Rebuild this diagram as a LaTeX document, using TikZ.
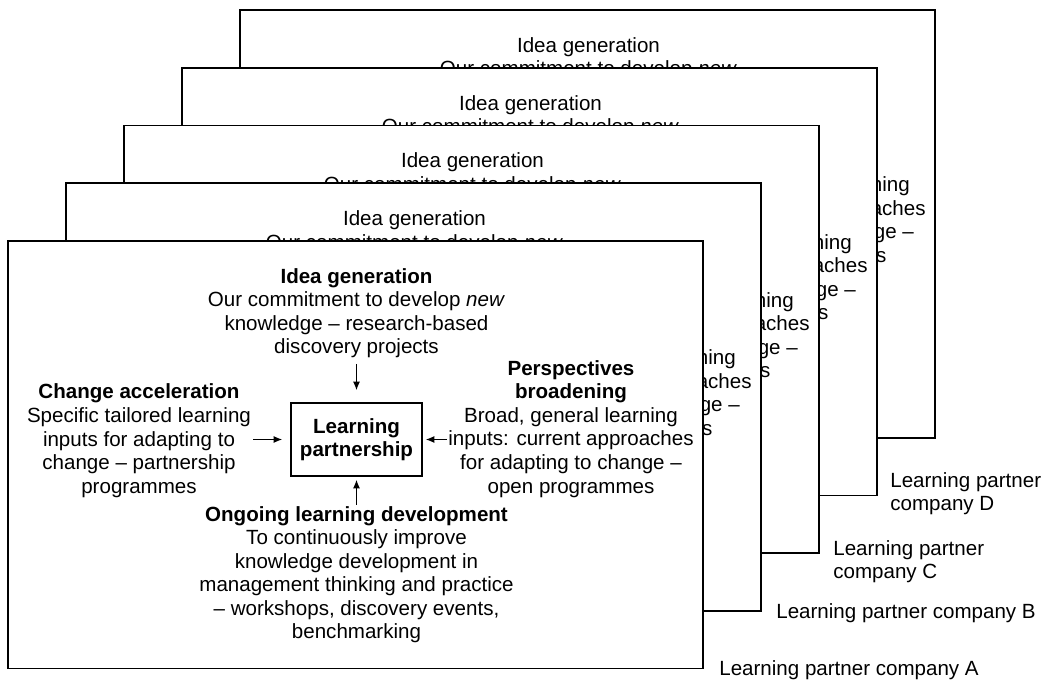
\documentclass[tikz,border=0pt]{standalone}
\usepackage{fontspec}
\setmainfont{Liberation Sans}
\usetikzlibrary{arrows.meta,positioning}

\begin{document}
\begin{tikzpicture}[x=0.02cm,y=-0.02cm,
  txt/.style={inner sep=0pt,align=center,font=\fontsize{11.7}{13.4}\selectfont},
  lab/.style={txt,align=left,anchor=north west},
  sheet/.style={draw,fill=white,line width=1pt},
  arr/.style={-{Latex[length=1.7mm,width=1.4mm]},line width=0.6pt}]
\useasboundingbox (0,0) rectangle (1042,682);
% sheets of the other companies, back to front
\foreach \i in {4,3,2,1}{
\begin{scope}[shift={(58*\i,-57.7*\i)}]
\draw[sheet] (8,241) rectangle (703,668.5);
\coordinate (corner\i) at (703,668.5);
\node[txt] (idea\i) at (356.5,313.2) {Idea generation\\Our commitment to develop \emph{new}\\knowledge – research-based\\discovery projects};
\node[txt] (persp\i) at (571,428.9) {Perspectives\\broadening\\Broad, general learning\\inputs: current approaches\\for adapting to change –\\open programmes};
\end{scope}}
% company A
\draw[sheet] (8,241) rectangle (703,668.5);
\coordinate (corner0) at (703,668.5);
\node[txt] (idea) at (356.5,313.2) {\textbf{Idea generation}\\Our commitment to develop \emph{new}\\knowledge – research-based\\discovery projects};
\node[txt] (change) at (139,440.7) {\textbf{Change acceleration}\\Specific tailored learning\\inputs for adapting to\\change – partnership\\programmes};
\node[txt] (persp) at (571,428.9) {\textbf{Perspectives}\\\textbf{broadening}\\Broad, general learning\\inputs: current approaches\\for adapting to change –\\open programmes};
\node[txt] (ongoing) at (356.5,574.7) {\textbf{Ongoing learning development}\\To continuously improve\\knowledge development in\\management thinking and practice\\– workshops, discovery events,\\benchmarking};
\node[txt,draw,line width=1pt,minimum width=2.62cm,minimum height=1.46cm] (box) at (356.5,439.5) {\textbf{Learning}\\\textbf{partnership}};
%inputs
\draw[arr,shorten <=0.11cm,shorten >=0.24cm] (idea.south -| box) -- (box.north);
\draw[arr,shorten <=0.04cm,shorten >=0.16cm] (change.east |- box) -- (box.west);
\draw[arr,shorten <=0.02cm,shorten >=0.06cm] (persp.west |- box) -- (box.east);
\draw[arr,shorten <=0.02cm,shorten >=0.06cm] (ongoing.north -| box) -- (box.south);
%labels
\node[lab] (labA) at ([shift={(16,-8.5)}]corner0) {Learning partner company A};
\node[lab] (labB) at ([shift={(15,-7.8)}]corner1) {Learning partner company B};
\node[lab] (labC) at ([shift={(14,-13.1)}]corner2) {Learning partner\\company C};
\node[lab] (labD) at ([shift={(13,-23.4)}]corner3) {Learning partner\\company D};
\end{tikzpicture}
\end{document}
